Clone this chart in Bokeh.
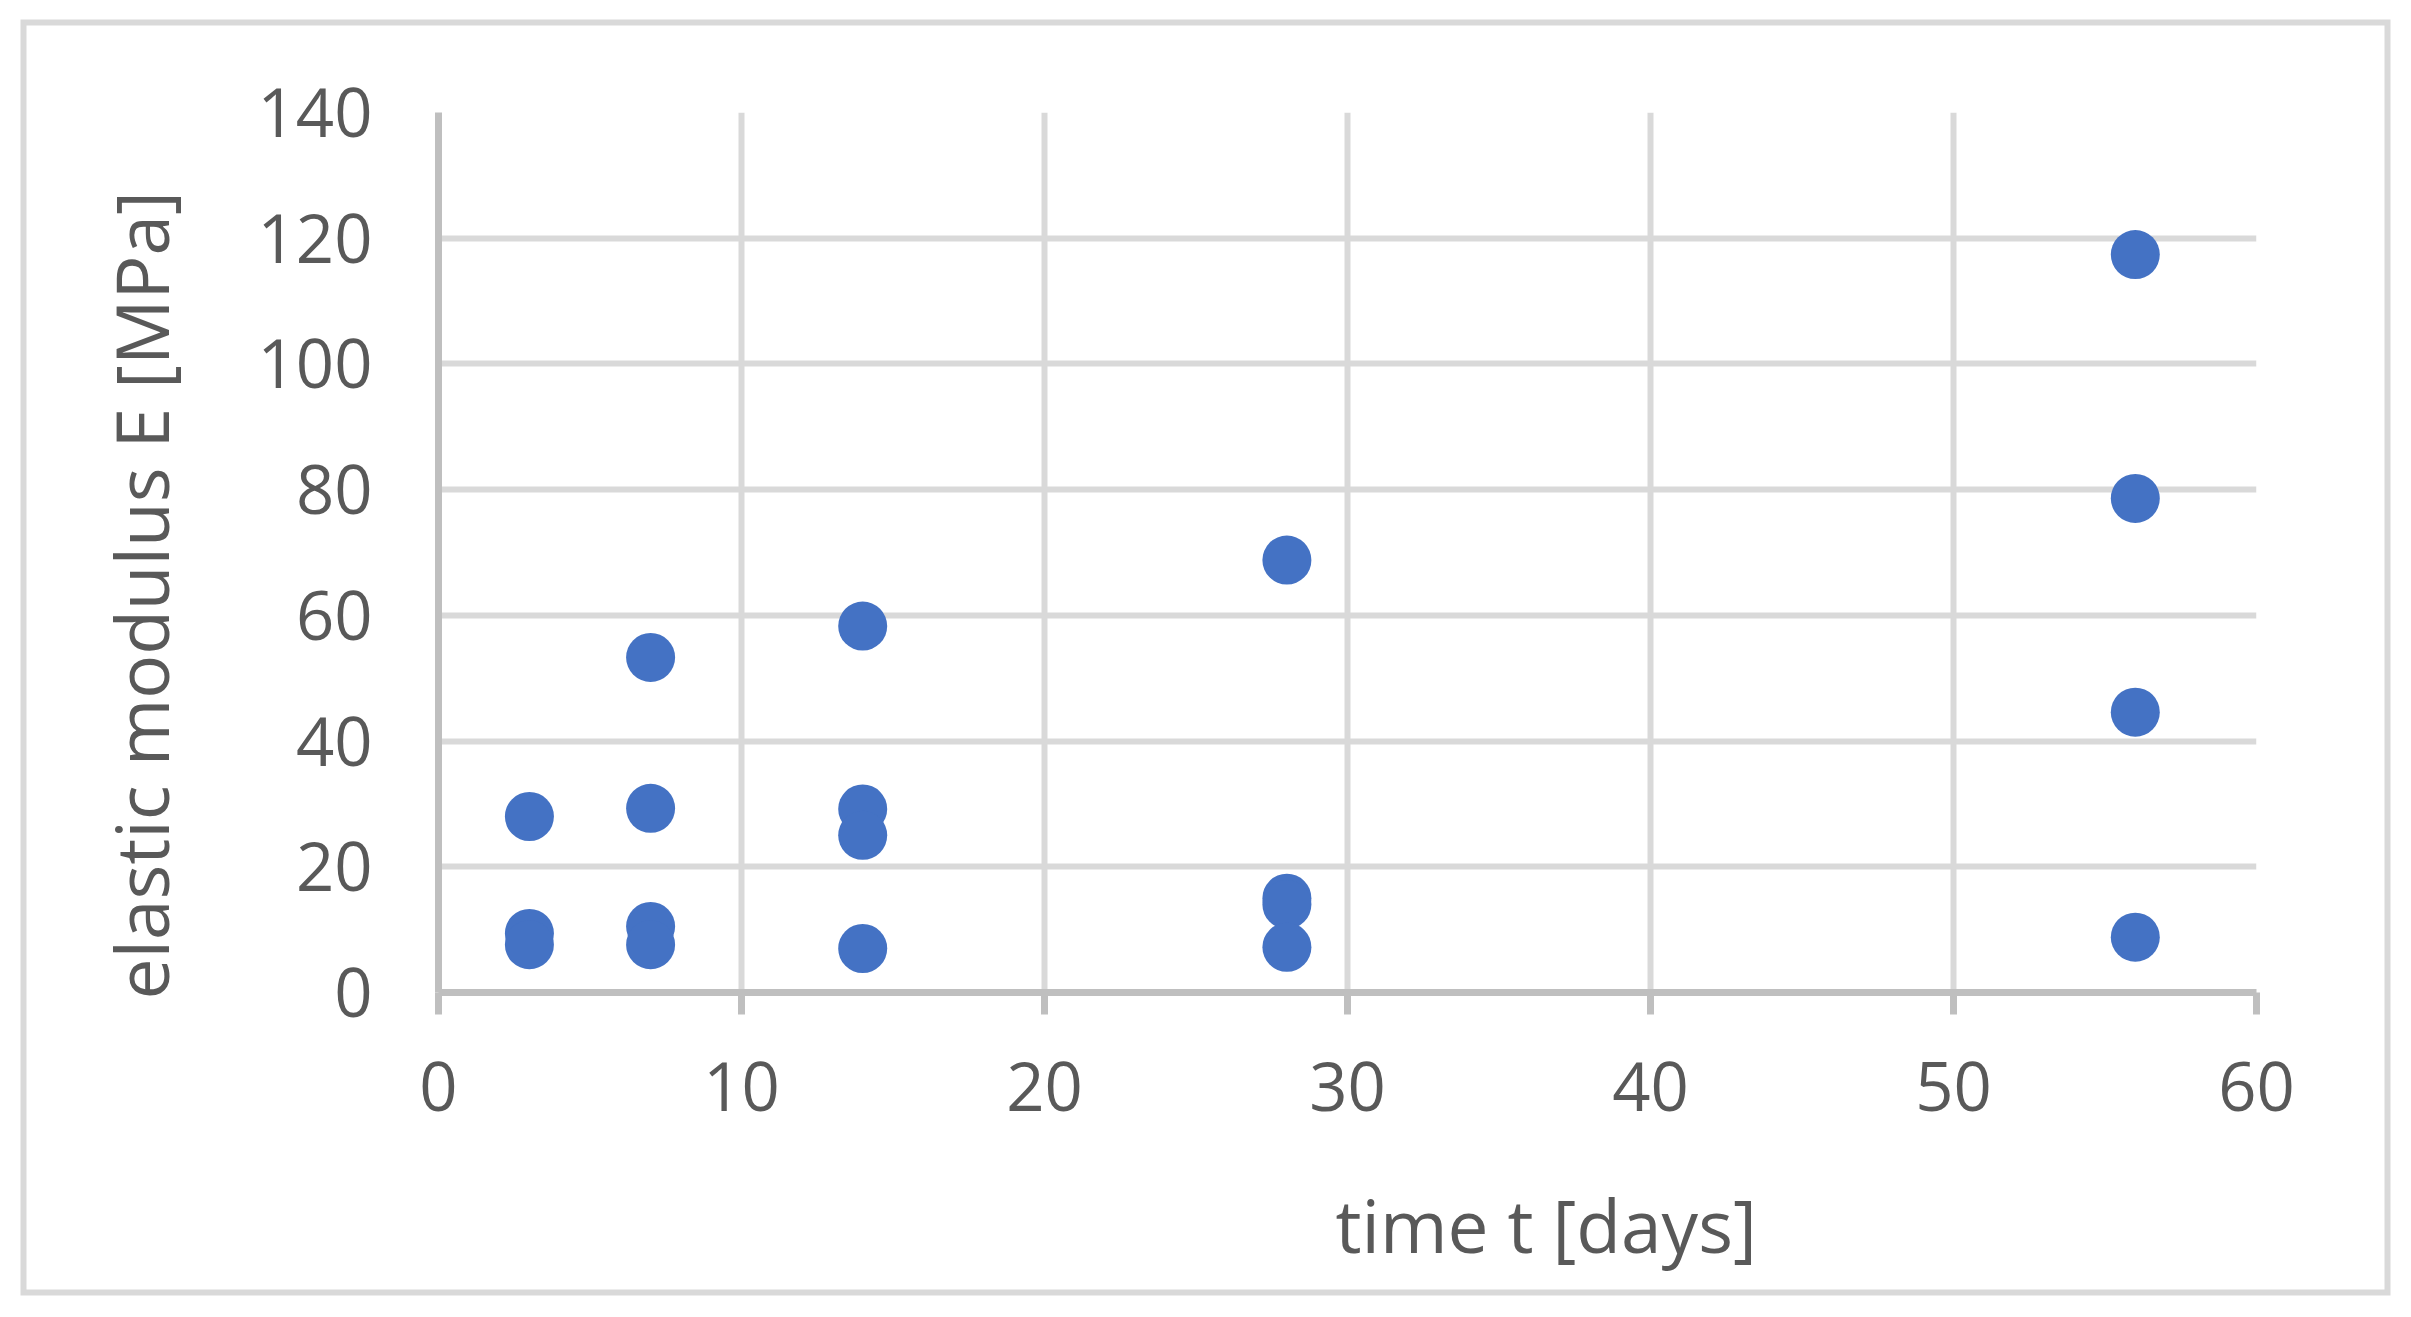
from bokeh.plotting import figure
from bokeh.models import Range1d, FixedTicker, Title, ColumnDataSource
from bokeh.embed import file_html
from bokeh.resources import INLINE

# ---- data ----
days = [3, 3, 3,
        7, 7, 7, 7,
        14, 14, 14, 14,
        28, 28, 28, 28,
        56, 56, 56, 56]
modulus = [28.0, 9.4, 7.6,
           53.3, 29.3, 10.5, 7.6,
           58.3, 29.2, 25.0, 7.0,
           68.8, 15.0, 14.0, 7.2,
           117.4, 78.6, 44.6, 8.8]
x_ticks = [0, 10, 20, 30, 40, 50, 60]
y_ticks = [0, 20, 40, 60, 80, 100, 120, 140]
x_title = "time t [days]"
y_title = "elastic modulus E [MPa]"

FONT = "Open Sans"
TXT = "#595959"
GRID = "#d9d9d9"
AXIS = "#bfbfbf"
BLUE = "#4472c4"

W, H = 2395, 1301
p = figure(width=W, height=H, output_backend="svg", toolbar_location=None,
           x_range=Range1d(0, 60), y_range=Range1d(0, 140),
           min_border_left=438, min_border_right=139,
           min_border_top=112, min_border_bottom=309)
p.outline_line_color = None
p.background_fill_color = "white"
p.border_fill_color = None
# outer light-grey chart border (ring drawn with inset shadows on the host element)
p.styles = {
    "box-shadow": "inset 8px 7px 0 12.5px white, inset 8px 7px 0 18.5px #d9d9d9",
    "background-color": "white",
}

p.xaxis.ticker = FixedTicker(ticks=x_ticks)
p.yaxis.ticker = FixedTicker(ticks=y_ticks)
p.xgrid.ticker = FixedTicker(ticks=x_ticks)
p.ygrid.ticker = FixedTicker(ticks=y_ticks)

for g in (p.xgrid, p.ygrid):
    g.grid_line_color = GRID
    g.grid_line_width = 6

for ax in (p.xaxis, p.yaxis):
    ax.axis_line_color = AXIS
    ax.axis_line_width = 7
    ax.major_tick_line_color = AXIS
    ax.major_tick_line_width = 7
    ax.minor_tick_line_color = None
    ax.major_tick_in = 0
    ax.major_label_text_font = FONT
    ax.major_label_text_font_size = "67px"
    ax.major_label_text_color = TXT

p.xaxis.major_tick_out = 22
p.xaxis.major_label_standoff = 47
p.yaxis.major_tick_out = 0
p.yaxis.major_label_standoff = 66

src = ColumnDataSource(data=dict(x=days, y=modulus))
p.scatter("x", "y", source=src, size=49, fill_color=BLUE, line_color=BLUE, line_width=0)

# blank spacer panel between the x axis and its title
p.add_layout(Title(text=" ", text_font_size="1px", text_color="white",
                   standoff=56), "below")

# axis titles, placed off-centre like the reference
p.add_layout(Title(text=x_title, text_font=FONT, text_font_size="73px",
                   text_font_style="normal", text_color=TXT,
                   align="left", offset=897, standoff=0), "below")
p.add_layout(Title(text=y_title, text_font=FONT, text_font_size="73px",
                   text_font_style="normal", text_color=TXT,
                   align="left", offset=-7, standoff=129), "left")

open("out.html", "w").write(file_html(p, INLINE))
